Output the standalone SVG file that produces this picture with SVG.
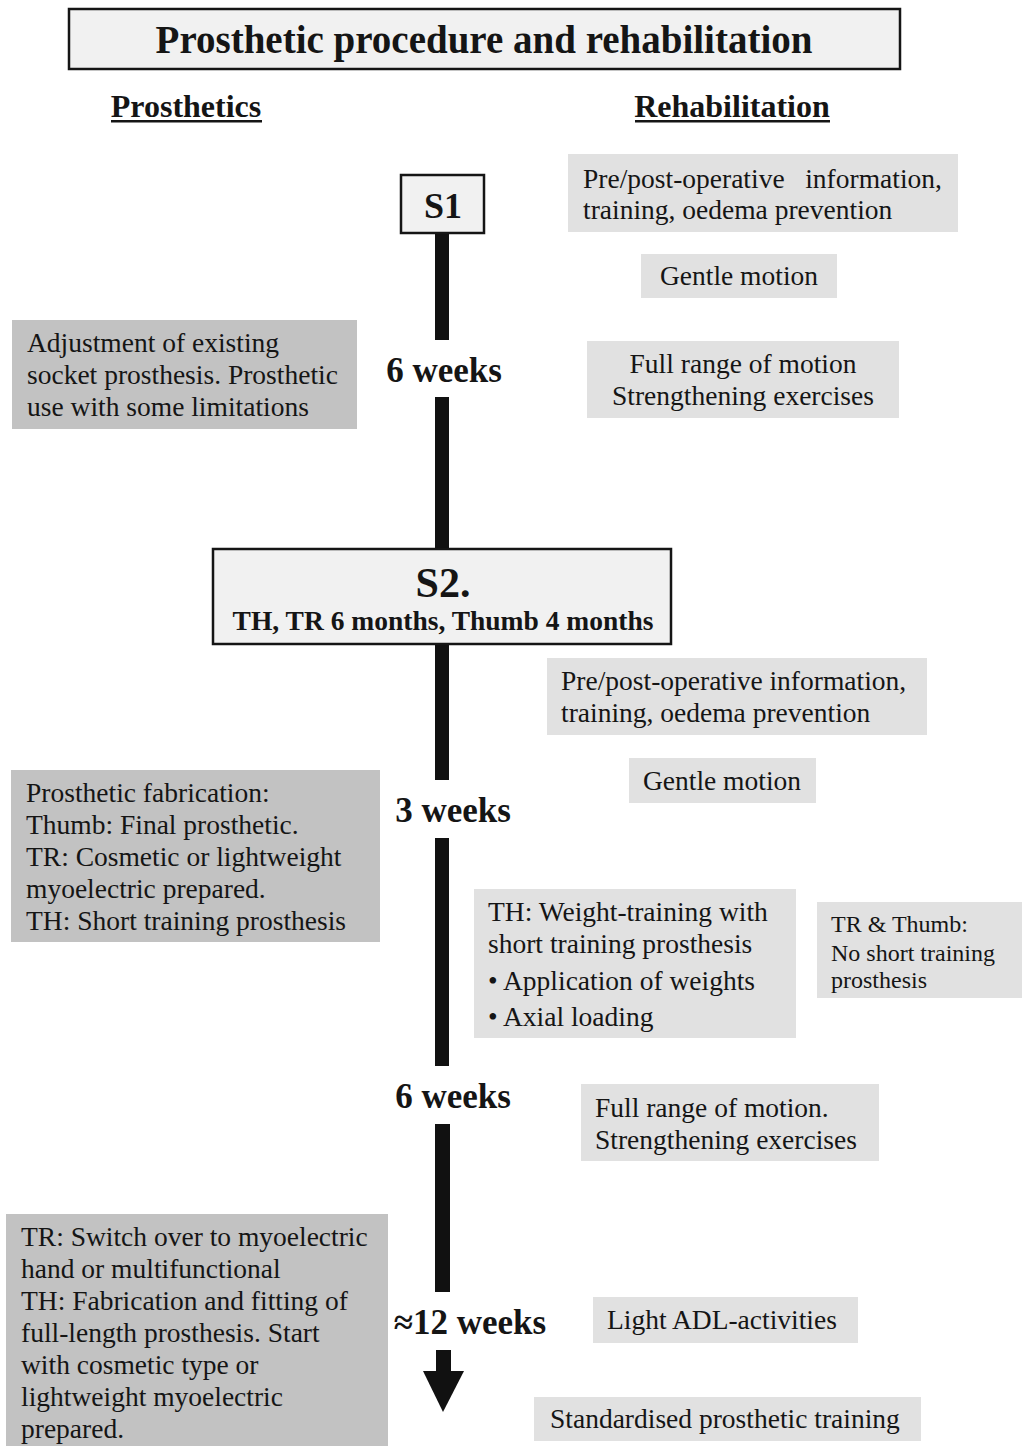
<svg xmlns="http://www.w3.org/2000/svg" width="1022" height="1446" viewBox="0 0 1022 1446">
<style>
text{font-family:"Liberation Serif","Times New Roman",serif;fill:#151515}
.b{font-weight:bold}
.t{font-size:27.5px}
.s{font-size:24px}
.lt{fill:#e1e1e1}
.dk{fill:#c2c2c2}
.frame{fill:#f1f1f1;stroke:#151515;stroke-width:2.5}
.bar{fill:#111}
.wk{font-size:35px;font-weight:bold;text-anchor:middle}
</style>
<rect width="1022" height="1446" fill="#fff"/>
<g id="title">
<rect class="frame" x="69" y="9" width="831" height="60" stroke-width="3"/>
<text class="b" x="484" y="53" font-size="39" text-anchor="middle">Prosthetic procedure and rehabilitation</text>
</g>
<g id="hdr-prosthetics">
<text class="b" x="186" y="117" font-size="32" text-anchor="middle">Prosthetics</text>
<rect x="111" y="120" width="151" height="2.5" fill="#151515"/>
</g>
<g id="hdr-rehab">
<text class="b" x="732" y="117" font-size="32" text-anchor="middle">Rehabilitation</text>
<rect x="635" y="120" width="195" height="2.5" fill="#151515"/>
</g>
<g id="connectors">
<rect class="bar" x="435" y="233" width="14" height="107"/>
<rect class="bar" x="435" y="397" width="14" height="152"/>
<rect class="bar" x="435" y="643" width="14" height="137"/>
<rect class="bar" x="435" y="838" width="14" height="228"/>
<rect class="bar" x="435" y="1124" width="15" height="168"/>
<rect class="bar" x="436" y="1350" width="15" height="22"/>
<polygon class="bar" points="423,1371 464,1371 443,1412"/>
</g>
<g id="s1">
<rect class="frame" x="401" y="175" width="83" height="58"/>
<text class="b" x="443" y="218" font-size="36" text-anchor="middle">S1</text>
</g>
<g id="lbl-6w-a"><text class="wk" x="444" y="382">6 weeks</text></g>
<g id="s2">
<rect class="frame" x="213" y="549" width="458" height="95"/>
<text class="b" x="443" y="597" font-size="42" text-anchor="middle">S2.</text>
<text class="b" x="443" y="630" font-size="27.5" text-anchor="middle">TH, TR 6 months, Thumb 4 months</text>
</g>
<g id="lbl-3w"><text class="wk" x="453" y="822">3 weeks</text></g>
<g id="lbl-6w-b"><text class="wk" x="453" y="1108">6 weeks</text></g>
<g id="lbl-12w"><text class="wk" x="470" y="1334" font-size="36">≈12 weeks</text></g>

<g id="r1">
<rect class="lt" x="568" y="154" width="390" height="78"/>
<text class="t" x="583" y="188" xml:space="preserve">Pre/post-operative   information,</text>
<text class="t" x="583" y="219">training, oedema prevention</text>
</g>
<g id="r2">
<rect class="lt" x="641" y="254" width="196" height="44"/>
<text class="t" x="739" y="285" text-anchor="middle">Gentle motion</text>
</g>
<g id="r3">
<rect class="lt" x="587" y="341" width="312" height="77"/>
<text class="t" x="743" y="373" text-anchor="middle">Full range of motion</text>
<text class="t" x="743" y="405" text-anchor="middle">Strengthening exercises</text>
</g>
<g id="p1">
<rect class="dk" x="12" y="320" width="345" height="109"/>
<text class="t" x="27" y="352">Adjustment of existing</text>
<text class="t" x="27" y="384">socket prosthesis. Prosthetic</text>
<text class="t" x="27" y="416">use with some limitations</text>
</g>
<g id="r4">
<rect class="lt" x="547" y="658" width="380" height="77"/>
<text class="t" x="561" y="690">Pre/post-operative information,</text>
<text class="t" x="561" y="722">training, oedema prevention</text>
</g>
<g id="r5">
<rect class="lt" x="629" y="758" width="187" height="45"/>
<text class="t" x="722" y="790" text-anchor="middle">Gentle motion</text>
</g>
<g id="p2">
<rect class="dk" x="11" y="770" width="369" height="172"/>
<text class="t" x="26" y="802">Prosthetic fabrication:</text>
<text class="t" x="26" y="834">Thumb: Final prosthetic.</text>
<text class="t" x="26" y="866">TR: Cosmetic or lightweight</text>
<text class="t" x="26" y="898">myoelectric prepared.</text>
<text class="t" x="26" y="930">TH: Short training prosthesis</text>
</g>
<g id="r6">
<rect class="lt" x="474" y="889" width="322" height="149"/>
<text class="t" x="488" y="921">TH: Weight-training with</text>
<text class="t" x="488" y="953">short training prosthesis</text>
<text class="t" x="488" y="990">• Application of weights</text>
<text class="t" x="488" y="1026">• Axial loading</text>
</g>
<g id="r7">
<rect class="lt" x="817" y="902" width="205" height="96"/>
<text class="s" x="831" y="932">TR &amp; Thumb:</text>
<text class="s" x="831" y="961">No short training</text>
<text class="s" x="831" y="988">prosthesis</text>
</g>
<g id="r8">
<rect class="lt" x="581" y="1084" width="298" height="77"/>
<text class="t" x="595" y="1117">Full range of motion.</text>
<text class="t" x="595" y="1149">Strengthening exercises</text>
</g>
<g id="p3">
<rect class="dk" x="6" y="1214" width="382" height="232"/>
<text class="t" x="21" y="1246">TR: Switch over to myoelectric</text>
<text class="t" x="21" y="1278">hand or multifunctional</text>
<text class="t" x="21" y="1310">TH: Fabrication and fitting of</text>
<text class="t" x="21" y="1342">full-length prosthesis. Start</text>
<text class="t" x="21" y="1374">with cosmetic type or</text>
<text class="t" x="21" y="1406">lightweight myoelectric</text>
<text class="t" x="21" y="1438">prepared.</text>
</g>
<g id="r9">
<rect class="lt" x="593" y="1297" width="265" height="46"/>
<text class="t" x="607" y="1329">Light ADL-activities</text>
</g>
<g id="r10">
<rect class="lt" x="534" y="1397" width="387" height="44"/>
<text class="t" x="550" y="1428">Standardised prosthetic training</text>
</g>
</svg>
